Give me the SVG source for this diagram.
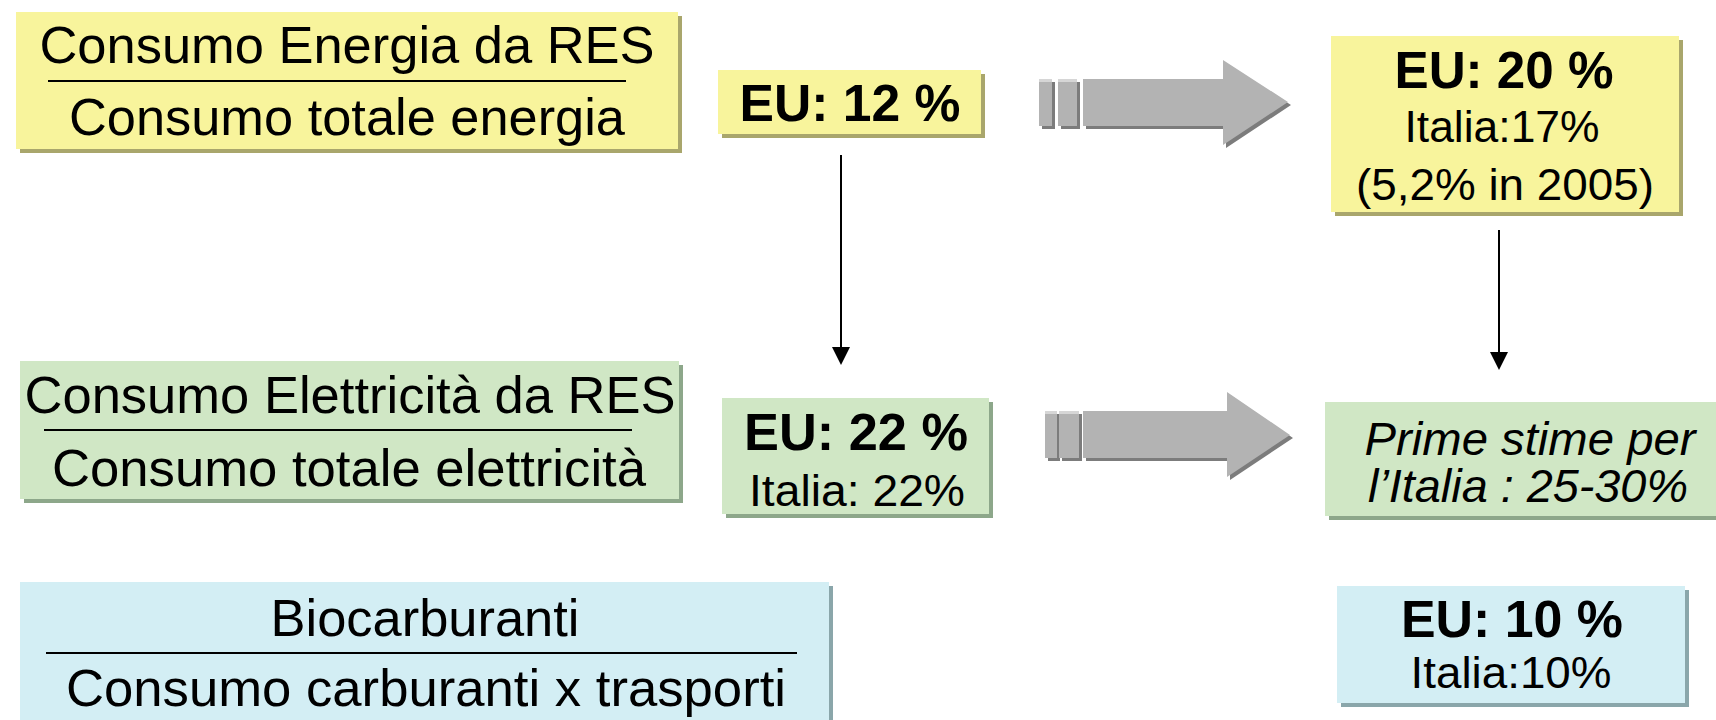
<svg xmlns="http://www.w3.org/2000/svg" width="1716" height="720" viewBox="0 0 1716 720">
<defs>
<style>
.t{font-family:"Liberation Sans",Arial,sans-serif;fill:#000;text-anchor:middle}
.big{font-size:52px}
.b{font-size:52px;font-weight:bold}
.s{font-size:45px}
.i{font-size:46px;font-style:italic}
.ye{fill:#F8F49C}
.yes{fill:#A9A66C}
.gr{fill:#D0E7C5}
.grs{fill:#8DA78A}
.bl{fill:#D3EEF4}
.bls{fill:#8AA6AA}
.rule{stroke:#000;stroke-width:2}
.conn{stroke:#000;stroke-width:2;fill:none}
.arr{fill:#B3B3B3}
.arrs{fill:#7C7C7C}
.arrh{fill:#D6D6D6}
</style>
<marker id="ah" markerUnits="userSpaceOnUse" markerWidth="18" markerHeight="20" refX="16" refY="9" orient="auto">
<path d="M0,0 L18,9 L0,18 Z" fill="#000"/>
</marker>
</defs>
<rect width="1716" height="720" fill="#fff"/>

<g id="box-energia-ratio">
<rect class="yes" x="20" y="16" width="662" height="137"/>
<rect class="ye" x="16" y="12" width="662" height="137"/>
<line class="rule" x1="48" y1="81" x2="626" y2="81"/>
<text class="t big" x="347" y="63" textLength="615" lengthAdjust="spacingAndGlyphs">Consumo Energia da RES</text>
<text class="t big" x="347" y="135" textLength="556" lengthAdjust="spacingAndGlyphs">Consumo totale energia</text>
</g>

<g id="box-eu12">
<rect class="yes" x="722" y="74" width="263" height="64"/>
<rect class="ye" x="718" y="70" width="263" height="64"/>
<text class="t b" x="850" y="121" textLength="221" lengthAdjust="spacingAndGlyphs">EU: 12 %</text>
</g>

<g id="box-eu20">
<rect class="yes" x="1335" y="40" width="348" height="176"/>
<rect class="ye" x="1331" y="36" width="348" height="176"/>
<text class="t b" x="1504" y="88" textLength="219" lengthAdjust="spacingAndGlyphs">EU: 20 %</text>
<text class="t s" x="1502" y="142" textLength="195" lengthAdjust="spacingAndGlyphs">Italia:17%</text>
<text class="t s" x="1505" y="200" textLength="298" lengthAdjust="spacingAndGlyphs">(5,2% in 2005)</text>
</g>

<g id="box-elettricita-ratio">
<rect class="grs" x="24" y="365" width="659" height="138"/>
<rect class="gr" x="20" y="361" width="659" height="138"/>
<line class="rule" x1="44" y1="430" x2="632" y2="430"/>
<text class="t big" x="350" y="413" textLength="651" lengthAdjust="spacingAndGlyphs">Consumo Elettricità da RES</text>
<text class="t big" x="349" y="486" textLength="594" lengthAdjust="spacingAndGlyphs">Consumo totale elettricità</text>
</g>

<g id="box-eu22">
<rect class="grs" x="726" y="402" width="267" height="116"/>
<rect class="gr" x="722" y="398" width="267" height="116"/>
<text class="t b" x="856" y="450" textLength="224" lengthAdjust="spacingAndGlyphs">EU: 22 %</text>
<text class="t s" x="857" y="506" textLength="216" lengthAdjust="spacingAndGlyphs">Italia: 22%</text>
</g>

<g id="box-prime-stime">
<rect class="grs" x="1329" y="406" width="400" height="114"/>
<rect class="gr" x="1325" y="402" width="400" height="114"/>
<text class="t i" x="1530" y="455" textLength="331" lengthAdjust="spacingAndGlyphs">Prime stime per</text>
<text class="t i" x="1528" y="502" textLength="320" lengthAdjust="spacingAndGlyphs">l’Italia : 25-30%</text>
</g>

<g id="box-biocarburanti-ratio">
<rect class="bls" x="24" y="586" width="809" height="140"/>
<rect class="bl" x="20" y="582" width="809" height="140"/>
<line class="rule" x1="46" y1="653" x2="797" y2="653"/>
<text class="t big" x="425" y="636" textLength="309" lengthAdjust="spacingAndGlyphs">Biocarburanti</text>
<text class="t big" x="426" y="706" textLength="720" lengthAdjust="spacingAndGlyphs">Consumo carburanti x trasporti</text>
</g>

<g id="box-eu10">
<rect class="bls" x="1341" y="590" width="348" height="117"/>
<rect class="bl" x="1337" y="586" width="348" height="117"/>
<text class="t b" x="1512" y="637" textLength="222" lengthAdjust="spacingAndGlyphs">EU: 10 %</text>
<text class="t s" x="1511" y="688" textLength="201" lengthAdjust="spacingAndGlyphs">Italia:10%</text>
</g>

<g id="connectors">
<line class="conn" x1="841" y1="155" x2="841" y2="363" marker-end="url(#ah)"/>
<line class="conn" x1="1499" y1="230" x2="1499" y2="368" marker-end="url(#ah)"/>

<g id="block-arrow-top">
<rect class="arrs" x="1042" y="82" width="13" height="47"/>
<rect class="arrs" x="1061" y="82" width="19" height="47"/>
<path class="arrs" d="M1086,82 L1226,82 L1226,63 L1291,105 L1226,148 L1226,129 L1086,129 Z"/>
<rect class="arr" x="1039" y="79" width="13" height="47"/>
<rect class="arr" x="1058" y="79" width="19" height="47"/>
<path class="arr" d="M1083,79 L1223,79 L1223,60 L1288,102 L1223,145 L1223,126 L1083,126 Z"/>
<rect class="arrh" x="1039" y="79" width="13" height="3"/>
<rect class="arrh" x="1058" y="79" width="19" height="3"/>
</g>

<g id="block-arrow-bottom">
<rect class="arrs" x="1048" y="414" width="12" height="47"/>
<rect class="arrs" x="1062" y="414" width="20" height="47"/>
<path class="arrs" d="M1086,414 L1230,414 L1230,395 L1293,438 L1230,480 L1230,461 L1086,461 Z"/>
<rect class="arr" x="1045" y="411" width="12" height="47"/>
<rect class="arr" x="1059" y="411" width="20" height="47"/>
<path class="arr" d="M1083,411 L1227,411 L1227,392 L1290,435 L1227,477 L1227,458 L1083,458 Z"/>
<rect class="arrh" x="1045" y="411" width="12" height="3"/>
<rect class="arrh" x="1059" y="411" width="20" height="3"/>
</g>
</g>
</svg>
